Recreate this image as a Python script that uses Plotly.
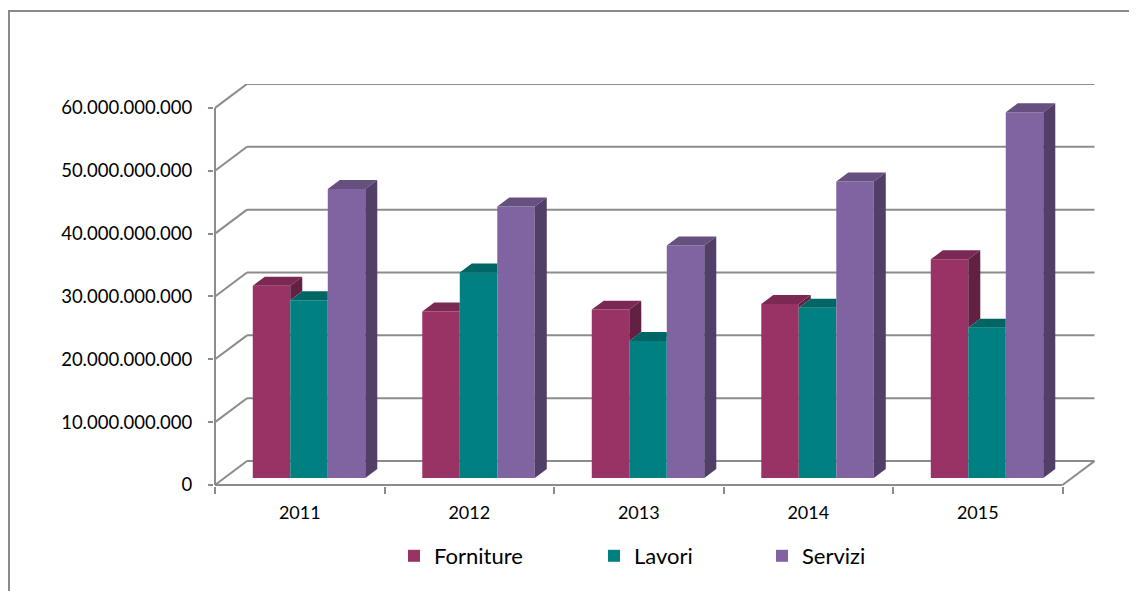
import plotly.graph_objects as go

# ---------------- data ----------------
years = ["2011", "2012", "2013", "2014", "2015"]
series_names = ["Forniture", "Lavori", "Servizi"]
forniture = [30.6e9, 26.5e9, 26.8e9, 27.7e9, 34.8e9]
lavori = [28.3e9, 32.7e9, 21.8e9, 27.1e9, 23.9e9]
servizi = [46.0e9, 43.2e9, 37.0e9, 47.2e9, 58.2e9]
y_ticks = [0, 10e9, 20e9, 30e9, 40e9, 50e9, 60e9]

# ---------------- style ----------------
front_cols = ["#993366", "#008080", "#8064A2"]
top_cols = ["#7b2853", "#006565", "#65507f"]
side_cols = ["#622042", "#005252", "#523f68"]
grid_col = "#8c8c8c"
FONT = "Lato"

PAGE = 8                       # default body margin of the html page
W, H = 1137 - PAGE, 591 - PAGE
L_PX, R_PX, T_PX, B_PX = 214 - PAGE, 42, 84 - PAGE, 105   # plot area margins
CAT_PX = 169.5                                  # px per category
plot_w = W - L_PX - R_PX
plot_h = H - T_PX - B_PX
x0 = -0.5 - 1.0 / CAT_PX
x1 = x0 + plot_w / CAT_PX
YMAX = 63.8e9
ppb = plot_h / YMAX
y0 = -1.0 / ppb
y1 = YMAX

# depth vector of the floor / back wall
DX = 32 / CAT_PX
DY = 24 / ppb
# bars sit at depth fraction 0.29, depth of bar 0.375
BAR_SHIFT_X = 0.29 * DX
BAR_BASE = 0.29 * DY
BDX = 0.375 * DX
BDY = 0.375 * DY
K = BDY / BDX
BW = 37.5 / CAT_PX

series = [forniture, lavori, servizi]
xs = list(range(len(years)))

fig = go.Figure()

# front faces as bars
for i, (name, vals) in enumerate(zip(series_names, series)):
    off = -1.5 * BW + i * BW + BAR_SHIFT_X
    fig.add_trace(go.Bar(
        x=xs, y=vals, base=[BAR_BASE] * len(vals), name=name,
        width=BW, offset=off, marker=dict(color=front_cols[i], line=dict(width=0)),
        legend=["legend", "legend2", "legend3"][i],
        hovertemplate=name + " %{x}: %{y:,.0f}<extra></extra>",
    ))


def poly(pts, color):
    fig.add_trace(go.Scatter(
        x=[p[0] for p in pts] + [pts[0][0]], y=[p[1] for p in pts] + [pts[0][1]],
        mode="lines", fill="toself", fillcolor=color, line=dict(width=0, color=color),
        hoverinfo="skip", showlegend=False))


# top and side faces, painter's order
for g in xs:
    for i, vals in enumerate(series):
        off = -1.5 * BW + i * BW + BAR_SHIFT_X
        xl = g + off
        xr = xl + BW
        b = BAR_BASE
        t = BAR_BASE + vals[g]
        tn = BAR_BASE + series[i + 1][g] if i + 1 < len(series) else None
        # top face
        if tn is None or tn <= t:
            pts = [(xl, t), (xr, t), (xr + BDX, t + BDY), (xl + BDX, t + BDY)]
        elif tn >= t + BDY:
            pts = [(xl, t), (xr, t), (xr, t + BDY), (xl + BDX, t + BDY)]
        else:
            pts = [(xl, t), (xr, t), (xr, tn), (xr + (tn - t) / K, tn),
                   (xr + BDX, t + BDY), (xl + BDX, t + BDY)]
        poly(pts, top_cols[i])
        # side face
        if tn is None:
            poly([(xr, b), (xr + BDX, b + BDY), (xr + BDX, t + BDY), (xr, t)], side_cols[i])
        elif t > tn:
            poly([(xr, tn), (xr + BDX, tn + BDY), (xr + BDX, t + BDY), (xr, t)], side_cols[i])

# back wall gridlines, side-wall diagonals and floor
shapes = []
line = dict(color=grid_col, width=2)
xa, xb = -0.5, len(years) - 0.5
for v in y_ticks:
    shapes.append(dict(type="line", xref="x", yref="y", x0=xa + DX, x1=xb + DX,
                       y0=v + DY, y1=v + DY, line=line, layer="below"))
    shapes.append(dict(type="line", xref="x", yref="y", x0=xa, x1=xa + DX,
                       y0=v, y1=v + DY, line=line, layer="below"))
shapes.append(dict(type="line", xref="x", yref="y", x0=xa, x1=xb, y0=0, y1=0, line=line, layer="below"))
shapes.append(dict(type="line", xref="x", yref="y", x0=xb, x1=xb + DX, y0=0, y1=DY, line=line, layer="below"))
shapes.append(dict(type="line", xref="x", yref="y", x0=xa, x1=xa, y0=0, y1=y_ticks[-1], line=line, layer="below"))
# chart-area border
shapes.append(dict(type="rect", xref="paper", yref="paper",
                   x0=(8 - PAGE + 1 - L_PX) / plot_w, x1=1.3, y0=-0.6,
                   y1=(H - B_PX - (10 - PAGE + 1)) / plot_h,
                   line=dict(color="#8a8a8a", width=2), fillcolor="rgba(0,0,0,0)", layer="below"))

leg_common = dict(orientation="h", xref="container", yref="container", yanchor="middle",
                  xanchor="left", bgcolor="rgba(0,0,0,0)",
                  font=dict(family=FONT, size=22, color="#000"), itemwidth=30)
LEG_Y = 1 - (556 - PAGE) / H

fig.update_layout(
    width=W, height=H,
    margin=dict(l=L_PX, r=R_PX, t=T_PX, b=B_PX, pad=0),
    paper_bgcolor="white", plot_bgcolor="white",
    separators=",.",
    barmode="overlay",
    shapes=shapes,
    legend=dict(leg_common, x=(408 - PAGE - 14) / W, y=LEG_Y),
    legend2=dict(leg_common, x=(608 - PAGE - 14) / W, y=LEG_Y),
    legend3=dict(leg_common, x=(776 - PAGE - 14) / W, y=LEG_Y),
    xaxis=dict(range=[x0, x1], tickvals=xs, ticktext=years, ticks="",
               showgrid=False, zeroline=False, showline=False,
               tickfont=dict(family=FONT, size=18, color="#000"), ticklabelstandoff=14),
    xaxis2=dict(range=[x0, x1], overlaying="x", anchor="y", side="bottom",
                tickvals=[i - 0.5 for i in range(len(years) + 1)], showticklabels=False,
                ticks="outside", ticklen=7, tickwidth=2, tickcolor=grid_col,
                showgrid=False, zeroline=False, showline=False),
    yaxis=dict(range=[y0, y1], tickvals=y_ticks, tickformat=",d",
               ticks="outside", ticklen=5, tickwidth=2, tickcolor=grid_col,
               showgrid=False, zeroline=False, showline=False,
               tickfont=dict(family=FONT, size=18.5, color="#000"), ticklabelstandoff=12),
)
fig.add_trace(go.Scatter(x=[None], y=[None], xaxis="x2", showlegend=False, hoverinfo="skip"))

fig.write_html("out.html")
